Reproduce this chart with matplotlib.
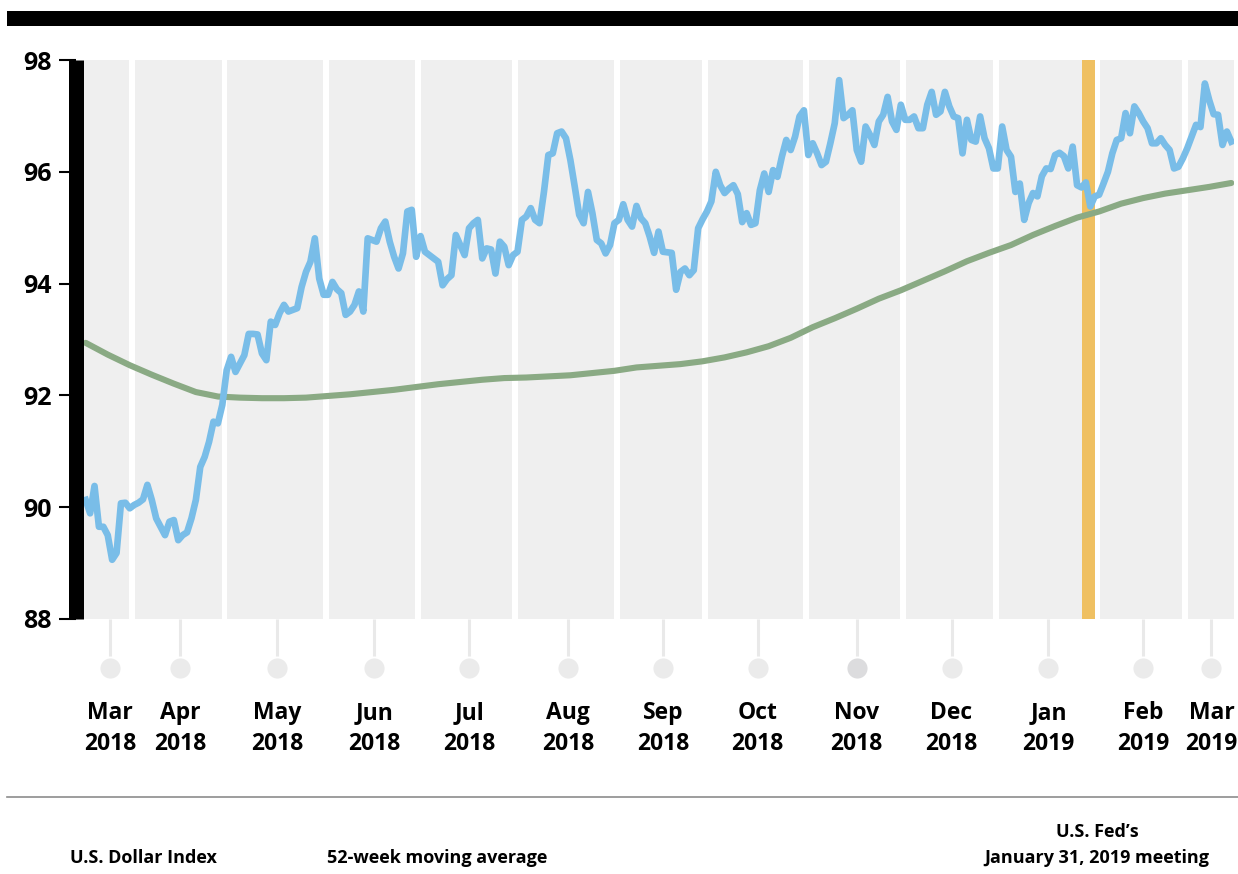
import numpy as np
import pandas as pd
import matplotlib
matplotlib.use("Agg")
import matplotlib.pyplot as plt
from matplotlib.patches import Rectangle
from matplotlib.lines import Line2D
from matplotlib.transforms import blended_transform_factory

# trading days shown on the axis (weekdays)
dates = pd.bdate_range("2018-03-16", "2019-03-15")

# U.S. Dollar Index, one value per trading day
dollar_index = [
    90.13, 89.89, 90.38, 89.65, 89.65, 89.50, 89.06, 89.18, 90.07, 90.08,
    89.98, 90.04, 90.08, 90.14, 90.40, 90.13, 89.80, 89.65, 89.50, 89.74,
    89.77, 89.41, 89.50, 89.55, 89.80, 90.13, 90.72, 90.90, 91.17, 91.53,
    91.50, 91.83, 92.45, 92.69, 92.42, 92.57, 92.72, 93.10, 93.10, 93.09,
    92.75, 92.63, 93.32, 93.26, 93.47, 93.62, 93.50, 93.53, 93.56, 93.94,
    94.21, 94.39, 94.81, 94.09, 93.80, 93.80, 94.03, 93.90, 93.83, 93.44,
    93.50, 93.62, 93.86, 93.50, 94.81, 94.78, 94.75, 94.99, 95.11, 94.75,
    94.48, 94.27, 94.54, 95.29, 95.32, 94.48, 94.85, 94.57, 94.51, 94.45,
    94.39, 93.97, 94.08, 94.15, 94.87, 94.69, 94.51, 94.99, 95.08, 95.14,
    94.45, 94.63, 94.61, 94.18, 94.75, 94.66, 94.33, 94.51, 94.57, 95.14,
    95.20, 95.35, 95.14, 95.08, 95.64, 96.30, 96.33, 96.69, 96.72, 96.60,
    96.21, 95.73, 95.23, 95.08, 95.64, 95.26, 94.78, 94.72, 94.54, 94.69,
    95.08, 95.14, 95.42, 95.14, 95.02, 95.39, 95.17, 95.08, 94.84, 94.55,
    94.93, 94.57, 94.56, 94.55, 93.89, 94.21, 94.27, 94.15, 94.24, 94.99,
    95.15, 95.29, 95.47, 96.00, 95.76, 95.62, 95.70, 95.76, 95.60, 95.10,
    95.26, 95.05, 95.08, 95.67, 95.97, 95.64, 96.03, 95.91, 96.27, 96.57,
    96.39, 96.63, 96.99, 97.10, 96.30, 96.51, 96.33, 96.12, 96.18, 96.51,
    96.87, 97.64, 96.96, 97.02, 97.10, 96.39, 96.18, 96.81, 96.66, 96.48,
    96.90, 97.02, 97.34, 96.90, 96.75, 97.20, 96.93, 96.93, 96.99, 96.78,
    96.78, 97.20, 97.43, 97.02, 97.08, 97.43, 97.17, 96.99, 96.96, 96.33,
    96.93, 96.57, 96.54, 96.99, 96.60, 96.42, 96.06, 96.06, 96.81, 96.39,
    96.27, 95.64, 95.79, 95.14, 95.44, 95.62, 95.56, 95.92, 96.06, 96.05,
    96.30, 96.34, 96.28, 96.06, 96.45, 95.76, 95.72, 95.81, 95.38, 95.56,
    95.59, 95.79, 96.00, 96.33, 96.57, 96.60, 97.05, 96.69, 97.17, 97.05,
    96.90, 96.78, 96.51, 96.51, 96.60, 96.48, 96.39, 96.06, 96.09, 96.24,
    96.42, 96.63, 96.84, 96.80, 97.58, 97.28, 97.03, 97.02, 96.48, 96.72,
    96.54,
]

# 52-week moving average, weekly (every 5th trading day)
moving_avg = [
    92.94, 92.73, 92.54, 92.37, 92.21, 92.06, 91.98, 91.96, 91.95, 91.95,
    91.96, 91.99, 92.02, 92.06, 92.10, 92.15, 92.20, 92.24, 92.28, 92.31,
    92.32, 92.34, 92.36, 92.40, 92.44, 92.50, 92.53, 92.56, 92.61, 92.68,
    92.77, 92.88, 93.03, 93.22, 93.38, 93.55, 93.73, 93.88, 94.05, 94.22,
    94.40, 94.55, 94.69, 94.87, 95.03, 95.18, 95.29, 95.43, 95.53, 95.61,
    95.67, 95.73, 95.80,
]

fed_meeting = "2019-01-31"
y_ticks = [88, 90, 92, 94, 96, 98]

BLUE = "#79bde8"
GREEN = "#8aaa84"
ORANGE = "#efc062"
BAND = "#efefef"

plt.rcParams["font.family"] = ["Open Sans", "DejaVu Sans"]

W, H = 1238, 874
fig = plt.figure(figsize=(W / 100, H / 100), dpi=100)
ax = fig.add_axes([83.5 / W, 255 / H, 1150 / W, 559 / H])

idx = np.arange(len(dates))
n = len(dates)

# month bands
months = dates.to_period("M")
starts = np.r_[0, np.flatnonzero(months[1:] != months[:-1]) + 1]
ends = np.r_[starts[1:], n]
gap = 0.68
for s, e in zip(starts, ends):
    left = s - 0.5 + (gap if s > 0 else 0)
    right = e - 0.5 - (gap if e < n else 0)
    ax.axvspan(left, right, color=BAND, lw=0, zorder=0)

# fed meeting marker
fi = dates.get_loc(pd.Timestamp(fed_meeting))
ax.axvspan(fi - 2.9, fi + 0.1, color=ORANGE, lw=0, zorder=1)

ax.plot(idx, dollar_index, color=BLUE, lw=4.8, solid_joinstyle="round", zorder=3)
ax.plot(idx[::5], moving_avg, color=GREEN, lw=4.4, solid_joinstyle="round",
        solid_capstyle="round", zorder=2)

ax.set_xlim(-0.5, n - 0.5)
ax.set_ylim(88, 98)
ax.set_yticks(y_ticks)
ax.set_xticks([])

for side in ["top", "right", "bottom"]:
    ax.spines[side].set_visible(False)
sp = ax.spines["left"]
sp.set_linewidth(10.8)
sp.set_position(("outward", 5.4))
sp.set_capstyle("butt")
ax.tick_params(axis="y", length=12.6, width=1.5, pad=5, labelsize=18, colors="black")
for lab in ax.get_yticklabels():
    lab.set_fontweight("bold")

# month ticks below the plot
trans = blended_transform_factory(ax.transData, ax.transAxes)
for s, e in zip(starts, ends):
    x = (s + e) / 2
    d = dates[s]
    ax.plot([x, x], [0, -0.066], color="#e9e9e9", lw=2.2, transform=trans,
            clip_on=False, solid_capstyle="butt")
    dot = "#dcdcde" if d.month == 11 else "#ebebeb"
    ax.plot([x], [-0.0877], marker="o", ms=14.5, color=dot, mec="none",
            transform=trans, clip_on=False)
    ax.text(x, -0.147, f"{d:%b}\n{d:%Y}", transform=trans, ha="center",
            va="top", fontsize=16.5, fontweight="bold", linespacing=1.36)

# frame decorations
fig.add_artist(Rectangle((7 / W, 1 - 26 / H), 1, 15 / H, transform=fig.transFigure,
                         color="black", lw=0))
fig.add_artist(Line2D([7 / W, 1], [1 - 797 / H] * 2, color="#8c8c8c", lw=1.2))

# legend labels
fig.text(70 / W, 1 - 858 / H, "U.S. Dollar Index", fontsize=13,
         fontweight="bold", va="center")
fig.text(327 / W, 1 - 858 / H, "52-week moving average", fontsize=13,
         fontweight="bold", va="center")
fig.text(1097 / W, 1 - 845 / H, "U.S. Fed\u2019s\nJanuary 31, 2019 meeting",
         fontsize=13, fontweight="bold", ha="center", va="center",
         linespacing=1.55)

fig.savefig("out.png", dpi=100)
